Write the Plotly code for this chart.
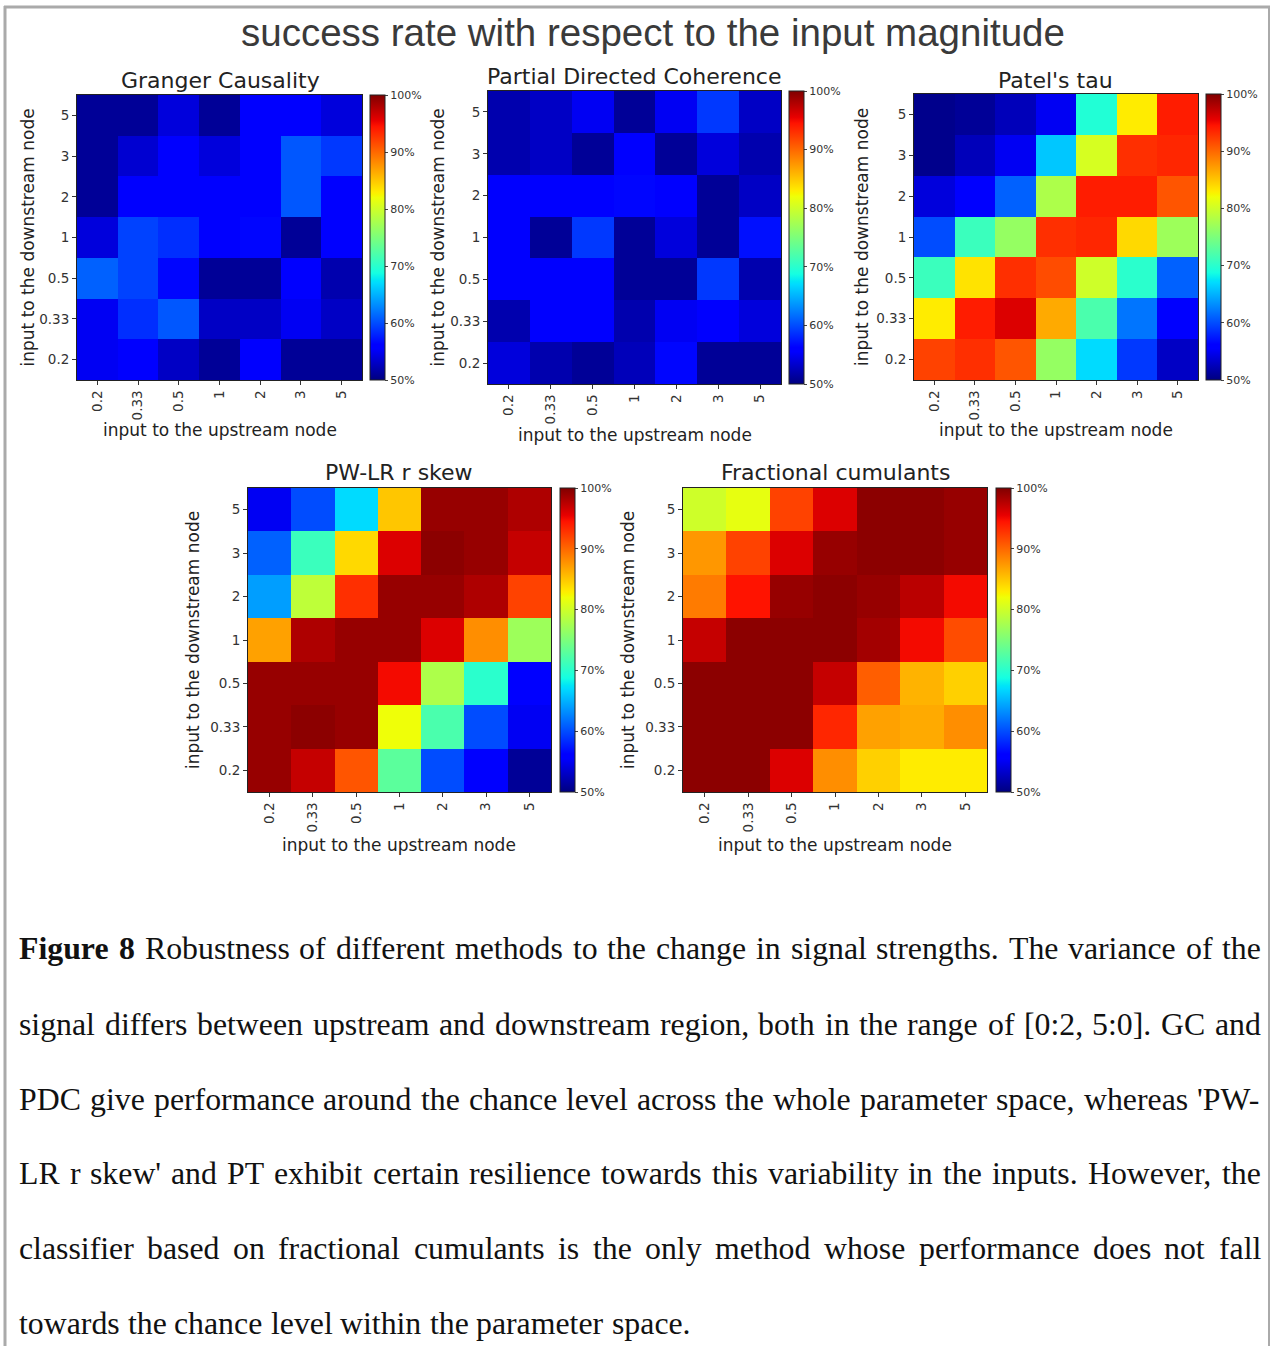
import plotly.graph_objects as go

W, H = 1273, 1346

# ---------------- data ----------------
x_labels = ["0.2", "0.33", "0.5", "1", "2", "3", "5"]          # input to the upstream node
y_labels = ["5", "3", "2", "1", "0.5", "0.33", "0.2"]          # input to the downstream node (top -> bottom)

granger = [
    [51, 51, 54, 51, 56, 56, 54],
    [51, 53.5, 56, 54, 56, 60.5, 59],
    [51, 56, 56, 56, 56, 60.5, 56],
    [54, 59.5, 58.5, 56, 56.5, 51, 56],
    [61, 59.5, 56.5, 51, 51, 56, 52],
    [55, 58.5, 60.5, 53, 53, 55, 53],
    [55, 56, 53, 51, 56, 51, 51],
]
pdc = [
    [52, 53, 55, 51, 55, 59, 53],
    [52, 53, 51, 56, 51, 54, 52],
    [55.5, 55.5, 55.5, 56.5, 55.5, 51, 53],
    [55.5, 51, 59, 51, 54, 51, 57],
    [56, 56, 55.5, 51, 51, 59, 52],
    [52, 55.5, 56, 52, 55, 55.5, 54],
    [54, 52, 51, 52.5, 56.5, 51, 51],
]
patel = [
    [50.5, 51, 52.5, 55, 69.5, 83, 94],
    [50.5, 52.5, 55, 66, 80.5, 93, 93.5],
    [54, 56, 61, 78, 94, 94, 91],
    [60, 71, 76.5, 93, 93.5, 84, 77],
    [71, 83.5, 93, 91.5, 80, 70, 61],
    [83, 94, 96, 86.5, 72, 62, 56],
    [92, 93, 91, 76.5, 67, 59, 53],
]
pwlr = [
    [55, 60, 67, 85, 99, 99, 98],
    [61, 71, 84, 96, 99.5, 99, 97],
    [64, 79, 93, 99, 99, 98, 92],
    [87, 98, 99, 99, 96, 88, 77],
    [99, 99, 99, 95, 78, 70, 56],
    [99, 99.5, 99, 82, 72, 60, 55],
    [99, 97, 91, 73, 60, 56, 51],
]
frac_cum = [
    [80, 81.5, 92, 96, 99.5, 99.5, 99],
    [87.5, 92, 96, 99, 99.5, 99.5, 99],
    [89, 94.5, 99, 99.5, 99, 97.5, 95],
    [97, 99.5, 99.5, 99.5, 98.5, 95, 91.5],
    [99.5, 99.5, 99.5, 97, 90.5, 86, 84.5],
    [99.5, 99.5, 99.5, 93.5, 87, 86.5, 88],
    [99.5, 99.5, 96, 88, 84.5, 83, 83],
]
titles = ["Granger Causality", "Partial Directed Coherence", "Patel's tau",
          "PW-LR r skew", "Fractional cumulants"]
cbar_ticks = [50, 60, 70, 80, 90, 100]
cbar_text = ["50%", "60%", "70%", "80%", "90%", "100%"]

main_title = "success rate with respect to the input magnitude"
caption_lines = [
    "**Figure** **8** Robustness of different methods to the change in signal strengths. The variance of the",
    "signal differs between upstream and downstream region, both in the range of [0:2, 5:0]. GC and",
    "PDC give performance around the chance level across the whole parameter space, whereas 'PW-",
    "LR r skew' and PT exhibit certain resilience towards this variability in the inputs. However, the",
    "classifier based on fractional cumulants is the only method whose performance does not fall",
    "towards the chance level within the parameter space.",
]

# ---------------- style / layout ----------------
# matplotlib 'jet' colormap
_r = [(0, 0), (0.35, 0), (0.66, 1), (0.89, 1), (1, 0.5)]
_g = [(0, 0), (0.125, 0), (0.375, 1), (0.64, 1), (0.91, 0), (1, 0)]
_b = [(0, 0.5), (0.11, 1), (0.34, 1), (0.65, 0), (1, 0)]


def _interp(pts, t):
    for (t0, v0), (t1, v1) in zip(pts[:-1], pts[1:]):
        if t0 <= t <= t1:
            return v0 + (v1 - v0) * (t - t0) / (t1 - t0) if t1 > t0 else v1
    return pts[-1][1]


_stops = sorted(set([p[0] for p in _r + _g + _b]))
jet = [[t, "rgb(%d,%d,%d)" % (round(255 * _interp(_r, t)), round(255 * _interp(_g, t)),
                              round(255 * _interp(_b, t)))] for t in _stops]

# pixel boxes: plot (x0, x1, y0, y1), colorbar x0, title centre, x-title y, y-title x
panels = [
    dict(z=granger, box=(77, 362, 95, 380), cbx=370, tx=220, ty=80, xty=430, ytx=27),
    dict(z=pdc, box=(488, 781, 91, 384), cbx=789, tx=634, ty=76, xty=435, ytx=437),
    dict(z=patel, box=(914, 1198, 94, 380), cbx=1206, tx=1055, ty=80, xty=430, ytx=862),
    dict(z=pwlr, box=(248, 551, 488, 792), cbx=560, tx=399, ty=473, xty=845, ytx=193),
    dict(z=frac_cum, box=(683, 987, 488, 792), cbx=996, tx=835, ty=473, xty=845, ytx=628),
]

TICK_FONT = dict(family="DejaVu Sans", size=13.5, color="#333")
fig = go.Figure()
annotations = []
layout = dict(width=W, height=H, margin=dict(l=0, r=0, t=0, b=0), autosize=False,
              paper_bgcolor="white", plot_bgcolor="white", showlegend=False)

for i, p in enumerate(panels):
    k = "" if i == 0 else str(i + 1)
    x0, x1, y0, y1 = p["box"]
    fig.add_trace(go.Heatmap(
        z=p["z"], x=x_labels, y=y_labels, xaxis="x" + k, yaxis="y" + k,
        colorscale=jet, zmin=50, zmax=100, xgap=0, ygap=0,
        colorbar=dict(
            x=p["cbx"] / W, xanchor="left", y=1 - y0 / H, yanchor="top",
            len=(y1 - y0) / H, lenmode="fraction", thickness=15, thicknessmode="pixels",
            xpad=0, ypad=0, outlinewidth=1, outlinecolor="#222",
            tickmode="array", tickvals=cbar_ticks, ticktext=cbar_text,
            ticks="outside", ticklen=3,
            tickcolor="#444", tickfont=dict(family="DejaVu Sans", size=11, color="#333"),
        ),
    ))
    layout["xaxis" + k] = dict(
        domain=[x0 / W, x1 / W], anchor="y" + k, type="category",
        categoryorder="array", categoryarray=x_labels,
        ticks="outside", ticklen=4, tickcolor="#333", tickangle=-90,
        tickfont=TICK_FONT, showline=True, mirror=True, linecolor="#222", linewidth=1,
        showgrid=False, zeroline=False, fixedrange=True)
    layout["yaxis" + k] = dict(
        domain=[1 - y1 / H, 1 - y0 / H], anchor="x" + k, type="category",
        categoryorder="array", categoryarray=y_labels, autorange="reversed",
        ticks="outside", ticklen=4, tickcolor="#333",
        tickfont=TICK_FONT, showline=True, mirror=True, linecolor="#222", linewidth=1,
        showgrid=False, zeroline=False, fixedrange=True)
    annotations.append(dict(text=titles[i], x=p["tx"] / W, y=1 - p["ty"] / H,
                            xref="paper", yref="paper", xanchor="center", yanchor="middle",
                            showarrow=False, font=dict(family="DejaVu Sans", size=22, color="#222")))
    annotations.append(dict(text="input to the upstream node", x=(x0 + x1) / 2 / W,
                            y=1 - p["xty"] / H, xref="paper", yref="paper",
                            xanchor="center", yanchor="middle", showarrow=False,
                            font=dict(family="DejaVu Sans", size=17, color="#222")))
    annotations.append(dict(text="input to the downstream node", x=p["ytx"] / W,
                            y=1 - (y0 + y1) / 2 / H, xref="paper", yref="paper",
                            xanchor="center", yanchor="middle", showarrow=False, textangle=-90,
                            font=dict(family="DejaVu Sans", size=17, color="#222")))

# main title
annotations.append(dict(text=main_title, x=653 / W, y=1 - 32 / H, xref="paper", yref="paper",
                        xanchor="center", yanchor="middle", showarrow=False,
                        font=dict(family="Liberation Sans", size=38.5, color="#3a3a3a")))

# ---------------- caption (justified, Times metrics) ----------------
TIMES = {" ": 250, "'": 180, ",": 250, "-": 333, ".": 250, ":": 278, "[": 333, "]": 333}
TIMES.update({d: 500 for d in "0123456789"})
TIMES.update(dict(zip("ABCDEFGHIJKLMNOPQRSTUVWXYZ",
                      [722, 667, 667, 722, 611, 556, 722, 722, 333, 389, 722, 611, 889, 722, 722,
                       556, 722, 667, 556, 611, 722, 722, 944, 722, 722, 611])))
TIMES.update(dict(zip("abcdefghijklmnopqrstuvwxyz",
                      [444, 500, 444, 500, 444, 333, 500, 500, 278, 278, 500, 278, 778, 500, 500,
                       500, 500, 333, 389, 278, 500, 500, 722, 500, 500, 444])))
TIMES_B = {"F": 611, "i": 278, "g": 500, "u": 556, "r": 444, "e": 444, "8": 500}

FS = 31.8
CAP_X0, CAP_X1 = 18, 1260
line_y = [948, 1024, 1099, 1173, 1248, 1323]


def word_w(w, bold):
    tab = TIMES_B if bold else TIMES
    return sum(tab.get(c, 500) for c in w) / 1000 * FS


for li, line in enumerate(caption_lines):
    words = []
    for w in line.split(" "):
        if w.startswith("**"):
            words.append((w.strip("*"), True))
        else:
            words.append((w, False))
    widths = [word_w(w, b) for w, b in words]
    last = li == len(caption_lines) - 1
    if last:
        gap = 0.25 * FS
    else:
        gap = max(0.2 * FS, (CAP_X1 - CAP_X0 - sum(widths)) / (len(words) - 1))
    xc = CAP_X0
    for (w, b), ww in zip(words, widths):
        annotations.append(dict(text="<b>%s</b>" % w if b else w, x=(xc - 1) / W,
                                y=1 - line_y[li] / H, xref="paper", yref="paper",
                                xanchor="left", yanchor="middle", showarrow=False,
                                font=dict(family="Liberation Serif", size=FS, color="#111")))
        xc += ww + gap

layout["annotations"] = annotations
layout["shapes"] = [
    dict(type="line", xref="paper", yref="paper", x0=4 / W, x1=1270 / W, y0=1 - 7 / H, y1=1 - 7 / H,
         line=dict(color="#aaa", width=3)),
    dict(type="line", xref="paper", yref="paper", x0=5 / W, x1=5 / W, y0=1 - 6 / H, y1=0,
         line=dict(color="#aaa", width=3)),
    dict(type="line", xref="paper", yref="paper", x0=1269 / W, x1=1269 / W, y0=1 - 6 / H, y1=0,
         line=dict(color="#aaa", width=2)),
]
fig.update_layout(**layout)
fig.write_html("out.html")
